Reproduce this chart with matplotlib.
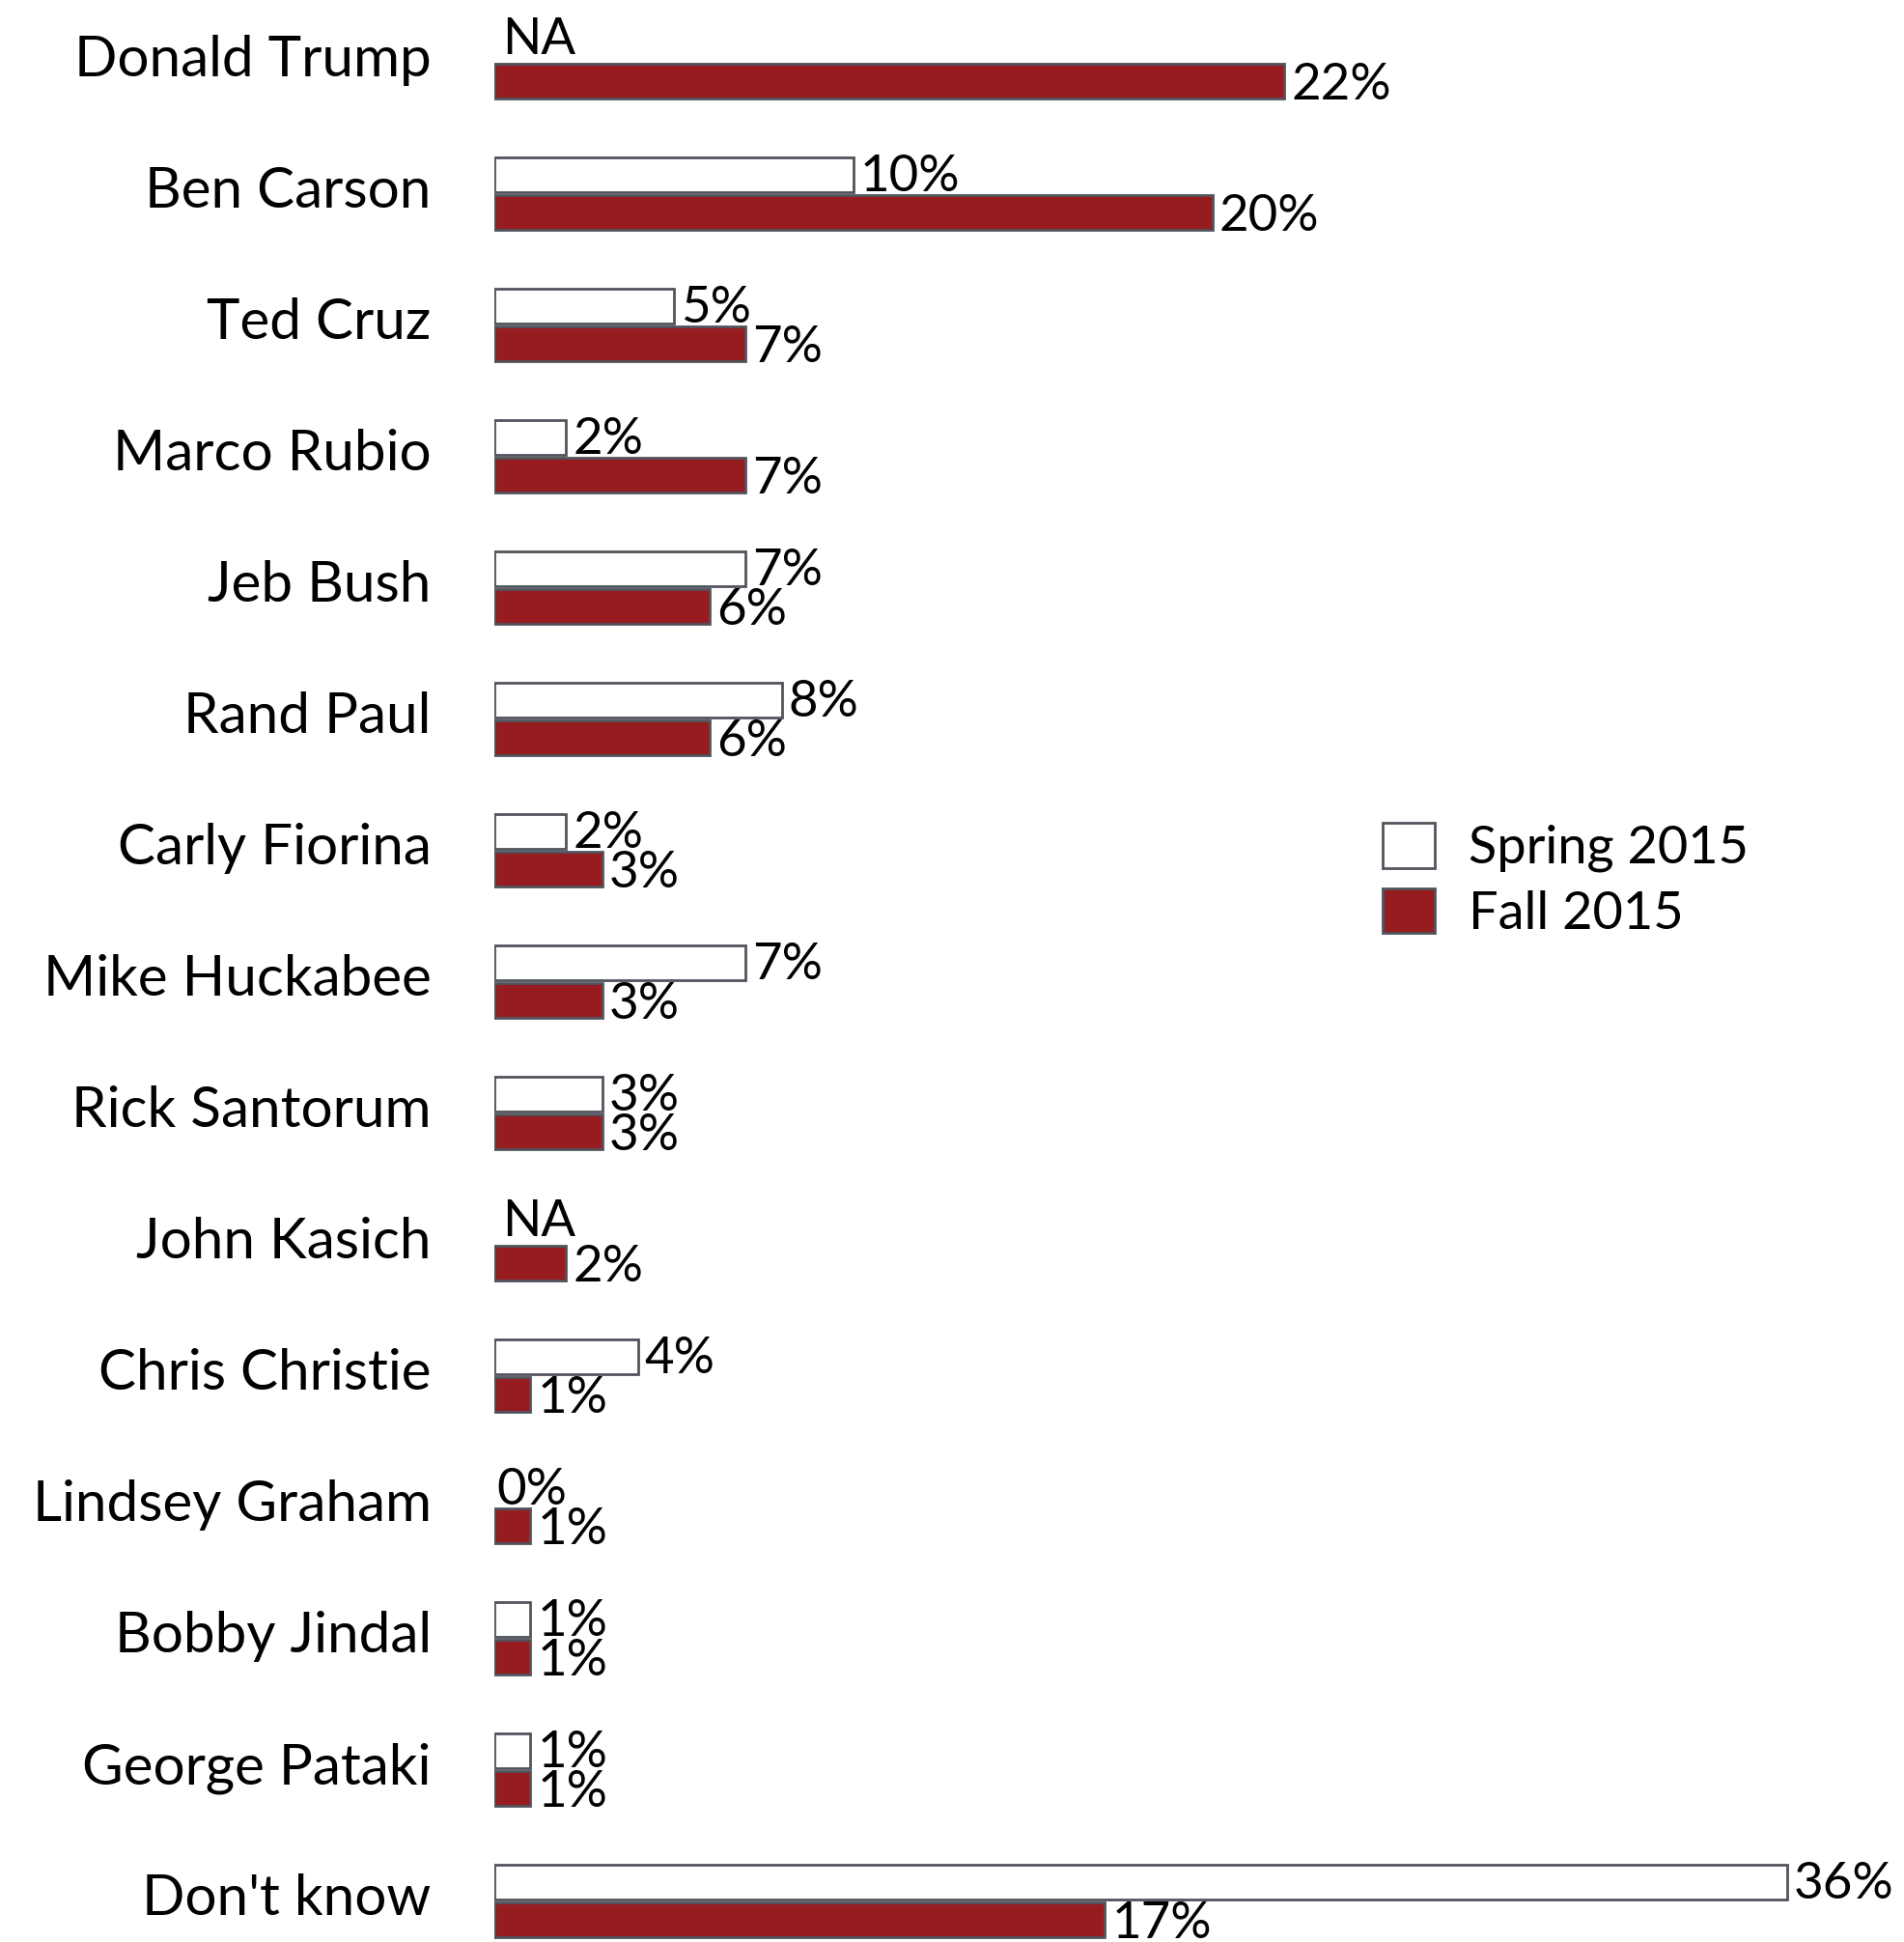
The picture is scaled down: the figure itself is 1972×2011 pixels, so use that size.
import numpy as np
import matplotlib.pyplot as plt
import matplotlib.transforms as mtransforms
from matplotlib.patches import Patch

plt.rcParams['font.family'] = ['Lato', 'DejaVu Sans']

# poll results, share of Republican voters
candidates = ['Donald Trump', 'Ben Carson', 'Ted Cruz', 'Marco Rubio', 'Jeb Bush',
              'Rand Paul', 'Carly Fiorina', 'Mike Huckabee', 'Rick Santorum',
              'John Kasich', 'Chris Christie', 'Lindsey Graham', 'Bobby Jindal',
              'George Pataki', "Don't know"]
spring = [None, 10, 5, 2, 7, 8, 2, 7, 3, None, 4, 0, 1, 1, 36]
fall = [22, 20, 7, 7, 6, 6, 3, 3, 3, 2, 1, 1, 1, 1, 17]

red = '#961c20'
edge = '#50545c'

W, H = 1972, 2011
fig = plt.figure(figsize=(W / 100, H / 100), dpi=100)
ax = fig.add_axes([512 / W, 0, 1 - 512 / W, 1])

rows = np.arange(len(candidates))
bh = 36 / 136
off = 19.75 / 136
vfs = 38

for i in rows:
    s = spring[i]
    f = fall[i]
    if s is None:
        ax.annotate('NA', (0, i - off), xytext=(6, 2), textcoords='offset points',
                    va='center', ha='left', fontsize=vfs)
    else:
        if s > 0:
            ax.barh(i - off, s, height=bh, color='white', edgecolor=edge, linewidth=2)
        ax.annotate('%d%%' % s, (s, i - off), xytext=(5 if s > 0 else 2, -2),
                    textcoords='offset points', va='center', ha='left', fontsize=vfs)
    ax.barh(i + off, f, height=bh, color=red, edgecolor=edge, linewidth=2)
    ax.annotate('%d%%' % f, (f, i + off), xytext=(5, -3), textcoords='offset points',
                va='center', ha='left', fontsize=vfs)

top = -64.5 / 136
ax.set_ylim(top + H / 136, top)
ax.set_xlim(0, (W - 512) / 37.2)

ax.set_yticks(rows)
ax.set_yticklabels(candidates, fontsize=42)
ax.tick_params(axis='y', length=0, pad=47)
ax.tick_params(axis='x', bottom=False, labelbottom=False)
for sp in ax.spines.values():
    sp.set_visible(False)
shift = mtransforms.ScaledTranslation(0, 5 / 72, fig.dpi_scale_trans)
for lab in ax.get_yticklabels():
    lab.set_transform(lab.get_transform() + shift)

handles = [Patch(facecolor='white', edgecolor=edge, linewidth=2),
           Patch(facecolor=red, edgecolor=edge, linewidth=2)]
fig.legend(handles, ['Spring 2015', 'Fall 2015'], loc='upper left',
           bbox_to_anchor=(1432 / W, 1 - 852 / H), frameon=False, fontsize=39,
           handlelength=1.0, handleheight=0.95, handletextpad=0.65,
           labelspacing=0.3, borderpad=0, borderaxespad=0)

fig.savefig('out.png', dpi=100)
